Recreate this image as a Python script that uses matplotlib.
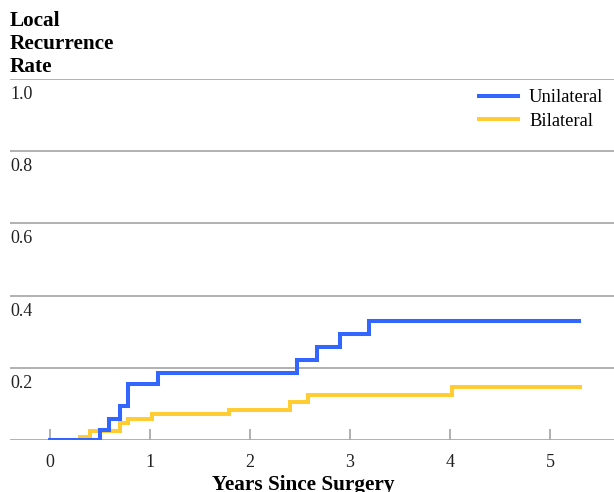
import matplotlib
matplotlib.use("Agg")
import matplotlib.pyplot as plt
from matplotlib.transforms import blended_transform_factory

plt.rcParams['font.family'] = ['Liberation Serif', 'DejaVu Serif']

# step data (years, recurrence rate)
uni_years = [0, 0.50, 0.59, 0.70, 0.78, 1.08, 2.47, 2.67, 2.90, 3.19, 5.29]
uni_rate = [0, 0.029, 0.059, 0.094, 0.155, 0.186, 0.221, 0.258, 0.294, 0.330, 0.330]
bi_years = [0.30, 0.40, 0.70, 0.78, 1.02, 1.79, 2.40, 2.58, 4.02, 5.30]
bi_rate = [0.009, 0.025, 0.047, 0.058, 0.071, 0.084, 0.106, 0.126, 0.146, 0.146]
y_ticks = [0, 0.2, 0.4, 0.6, 0.8, 1.0]
x_ticks = [0, 1, 2, 3, 4, 5]

blue = '#3366FF'
yellow = '#FFCC33'
grey = '#AAAAAA'

fig = plt.figure(figsize=(6.14, 4.92), dpi=100)
ax = fig.add_axes([10 / 614, 52 / 492, 604 / 614, 361 / 492])

ax.step(uni_years, uni_rate, where='post', color=blue, lw=2.9, label='Unilateral',
        solid_joinstyle='miter', zorder=3)
ax.step(bi_years, bi_rate, where='post', color=yellow, lw=2.9, label='Bilateral',
        solid_joinstyle='miter', zorder=2)

ax.set_xlim(-0.4, 5.64)
ax.set_ylim(0, 1.0)
for s in ax.spines.values():
    s.set_visible(False)

ax.set_yticks(y_ticks)
ax.yaxis.grid(True, color=grey, lw=1.3)
ax.tick_params(axis='y', length=0, labelleft=False)
ax.set_xticks(x_ticks)
ax.tick_params(axis='x', direction='in', length=8, width=1.3, color=grey,
               labelsize=13, pad=10, labelcolor='#222222')
ax.set_axisbelow(True)

# y labels sit just below each gridline, at the left edge
trans = blended_transform_factory(ax.transAxes, ax.transData)
for v in y_ticks[1:]:
    ax.annotate(f'{v:.1f}', (0, v), xycoords=trans, xytext=(0, -5),
                textcoords='offset points', ha='left', va='top',
                fontsize=13, color='#222222')

fig.text(10 / 614, 1 - 11 / 492, 'Local\nRecurrence\nRate', ha='left', va='top',
         fontsize=15.3, fontweight='bold', linespacing=1.2)
fig.text(303 / 614, 1 - 475 / 492, 'Years Since Surgery', ha='center', va='top',
         fontsize=15.3, fontweight='bold')

ax.legend(loc='upper right', bbox_to_anchor=(1.01, 1.018), frameon=False,
          fontsize=13.3, handlelength=2.1, handletextpad=0.6, labelspacing=0.35)

fig.savefig('out.png', dpi=100)
